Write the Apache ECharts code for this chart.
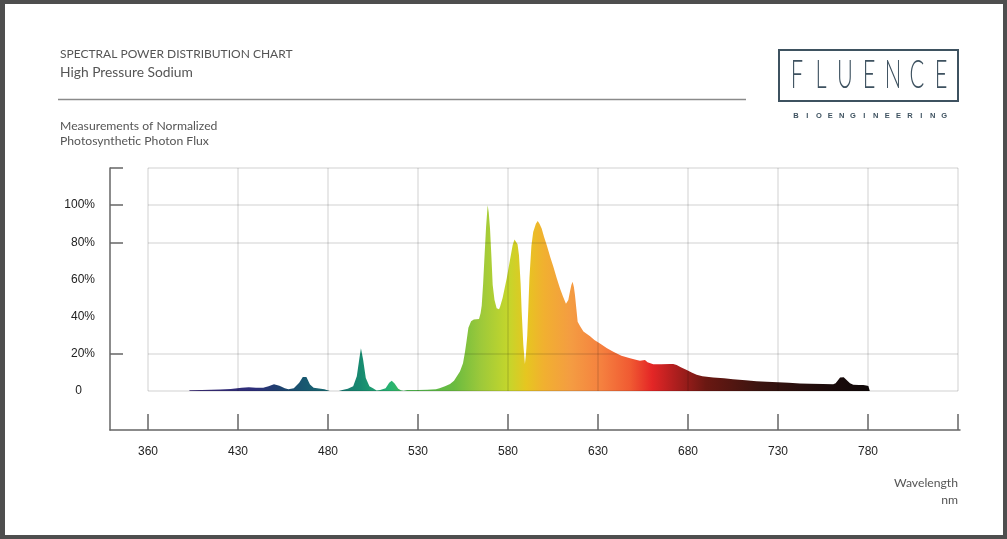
<!DOCTYPE html>
<html><head><meta charset="utf-8">
<script src="https://cdn.jsdelivr.net/npm/echarts@6/dist/echarts.min.js"></script>
<style>
html,body{margin:0;padding:0;background:#fff;}
#c{position:absolute;left:0;top:0;width:1007px;height:539px;background:#fff;}
#frame{position:absolute;left:0;top:0;width:1007px;height:539px;box-sizing:border-box;border-style:solid;border-color:#4e4e4e;border-width:4px 4px 4px 5px;pointer-events:none;}
</style></head>
<body><div id="c"></div><div id="frame"></div>
<script>
// ---- data ----
const wavelengths = [403,410,420,426,432,436,440,444,447,450,453,456,458,461,464,466,467,468,470,472,475,478,479,481,486,488,491,494,496,497.5,498.3,499.5,501,503,505,507,509,512,514,515.4,517,519,520.5,522,524,530,535,540,542,545,547.8,550,553.3,555,556.1,557,558,559.5,561,563.9,564.8,565.4,566.2,566.8,567.8,568.7,569.3,570,570.8,571.5,572.5,573.7,575,575.6,577,579.3,581,582.6,583.6,584.4,585.3,586.1,587,587.6,588.5,589.4,590,590.7,591.3,591.9,593,594,595.5,596.5,597.5,598.7,600,601.5,603.5,605.2,607,608.9,610.5,612.2,613.5,614.4,615.2,615.9,616.6,617.2,618,618.7,620,621.9,625.6,628,631.1,635,638.5,643,647.8,651,653.3,656.1,657.5,660.7,665,670,671.8,673.7,676,679.3,682,684.8,688,694,700,705,712,718,723.7,730,736,742.2,748,755,760.7,762,763,764.5,765.4,766.5,768.1,770,771.8,775,777.4,779,780.2,781];
const values = [0.4,0.5,0.8,1.1,1.8,2.0,1.8,1.8,2.6,3.6,2.8,1.5,1.0,1.5,4.5,7.5,8.2,7.5,3.5,1.8,1.4,1.0,0.3,0.0,0.0,0.5,1.2,2.5,8,18,23,17,7,2.5,1.5,0.3,0.5,1.5,4.5,5.5,4,1.2,0.4,0.2,0.6,0.6,0.7,1.0,1.5,2.5,3.8,5.5,10.5,15,21,27,34,37.5,38.5,38.7,42,46,58,69.5,88,100,96,87.6,72,57,49,44.5,44,45.3,50,60.7,70,78.5,81.5,82.5,79,73,58,42.6,25,14.5,20,30,45,60.7,78,85.6,90,91.5,90,87.5,83,78.5,72,66.8,61,55.2,51,47,49,53.4,57,58.8,56,51.6,44,37.3,35,32,29.5,27.5,25.6,23,21.1,19,17.6,16.8,16.3,16.7,15.5,14.4,14.4,14.5,14.5,14.0,12.8,11.3,10,8.8,8,7.3,6.8,6.3,5.8,5.3,5.0,4.7,4.4,4.1,3.9,3.7,3.6,4.2,5.4,7.2,8.0,7.4,5.9,4.2,3.3,3.2,3.2,3.0,2.7,2.5];

const xTickValues = [380,430,480,530,580,630,680,730,780,830];
const xTickLabels = ['360','430','480','530','580','630','680','730','780'];
const yLabelValues = [0,20,40,60,80,100];
const yTickValues = [20,80,100,120];
const gridValues = [0,20,80,100,120];

const specWl    = [403,440,452,467,480,498,515,525,550,565,580,590,600,615,632,648,660,672,690,720,760,781];
const specColor = ['#3c2b76','#2d2f7a','#1f3f6e','#185870','#1a6a72','#178a70','#28b472','#4eb850','#6abb40','#9dc93a','#c4d62c','#e6c620','#f1b030','#f49c42','#f5803f','#f05a32','#e42626','#b21f1f','#6a1812','#3a1410','#1a0b0b','#0f0808'];

const titleLines = ['SPECTRAL POWER DISTRIBUTION CHART','High Pressure Sodium'];
const subtitleLines = ['Measurements of Normalized','Photosynthetic Photon Flux'];
const axisNameLines = ['Wavelength','nm'];
const logoWord = 'FLUENCE';
const logoSub = 'BIOENGINEERING';

// ---- chart ----
const chart = echarts.init(document.getElementById('c'), null, {renderer:'canvas'});
const wMin = wavelengths[0], wMax = wavelengths[wavelengths.length-1];
const stops = specWl.map((w,i)=>({offset:(w-wMin)/(wMax-wMin), color:specColor[i]}));
const axisCol = '#666';
const labelFont = '"Liberation Sans", Arial, sans-serif';
const txtFont = 'Lato, "Open Sans", sans-serif';
const logoCol = '#3e5260';

function txt(t, x, y, size, align, col){
  return {type:'text', x:x, y:y, style:{text:t, fill:col||'#555', font:size+'px '+txtFont, textAlign:align, textVerticalAlign:'middle', align:align, verticalAlign:'middle'}};
}
const graphics = [];
graphics.push(txt(titleLines[0], 60, 54, 12, 'left'));
graphics.push(txt(titleLines[1], 60, 73, 13.8, 'left'));
graphics.push({type:'line', shape:{x1:58, y1:99.5, x2:746, y2:99.5}, style:{stroke:'#8a8a8a', lineWidth:1.5}});
graphics.push(txt(subtitleLines[0], 60, 126, 12.2, 'left'));
graphics.push(txt(subtitleLines[1], 60, 141, 12.2, 'left'));
graphics.push(txt(axisNameLines[0], 958, 483, 12.2, 'right'));
graphics.push(txt(axisNameLines[1], 958, 500, 12.2, 'right'));
// logo
graphics.push({type:'rect', shape:{x:779, y:50, width:179, height:51}, style:{fill:'none', stroke:logoCol, lineWidth:2}});
for (let i=0;i<logoWord.length;i++){
  graphics.push({type:'text', x:797+i*24, y:75, scaleX:0.56, style:{text:logoWord[i], fill:logoCol, font:'300 39px Lato, "DejaVu Sans", sans-serif', textAlign:'center', textVerticalAlign:'middle', align:'center', verticalAlign:'middle'}});
}
for (let i=0;i<logoSub.length;i++){
  graphics.push({type:'text', x:796+i*11.4, y:115.5, style:{text:logoSub[i], fill:logoCol, font:'bold 7.5px "Liberation Sans", sans-serif', textAlign:'center', textVerticalAlign:'middle', align:'center', verticalAlign:'middle'}});
}

const option = {
  animation:false,
  backgroundColor:'#fff',
  grid:[
    {left:110, right:47, top:168, bottom:109, outerBoundsMode:'none', containLabel:false},
    {left:148, right:49, top:168, bottom:148, outerBoundsMode:'none', containLabel:false}
  ],
  xAxis:[
    {type:'value', gridIndex:0, min:358.9, max:831.1, position:'bottom',
     axisLine:{show:true, onZero:false, lineStyle:{color:axisCol, width:1.5}},
     axisTick:{show:true, inside:true, length:16, customValues:xTickValues, lineStyle:{color:axisCol, width:1.5}},
     axisLabel:{show:true, customValues:xTickValues.slice(0, xTickLabels.length), formatter:(v)=>{const k=xTickValues.indexOf(v); return k>=0?xTickLabels[k]:'';}, margin:16, color:'#222', fontSize:12, fontFamily:labelFont},
     splitLine:{show:false}},
    {type:'value', gridIndex:1, min:380, max:830, interval:50, z:5,
     axisLine:{show:false}, axisTick:{show:false}, axisLabel:{show:false},
     splitLine:{show:true, lineStyle:{color:'rgba(0,0,0,0.12)', width:1.5}}}
  ],
  yAxis:[
    {type:'value', gridIndex:0, min:-21, max:120,
     axisLine:{show:true, onZero:false, lineStyle:{color:axisCol, width:1.5}},
     axisTick:{show:true, inside:true, length:13, customValues:yTickValues, lineStyle:{color:axisCol, width:1.5}},
     axisLabel:{show:true, customValues:yLabelValues, margin:15, color:'#222', fontSize:12, fontFamily:labelFont,
       formatter:(v)=> v===0 ? '{z|0}' : v+'%', rich:{z:{padding:[0,13,0,0], fontSize:12, fontFamily:labelFont, color:'#222'}}},
     splitLine:{show:false}},
    {type:'value', gridIndex:1, min:0, max:120, z:5,
     axisLine:{show:false}, axisTick:{show:false, customValues:gridValues}, axisLabel:{show:false},
     splitLine:{show:true, lineStyle:{color:'rgba(0,0,0,0.12)', width:1.5}}}
  ],
  series:[{
    type:'line', xAxisIndex:1, yAxisIndex:1, symbol:'none', smooth:false,
    data: wavelengths.map((w,i)=>[w, values[i]]),
    lineStyle:{width:0},
    areaStyle:{opacity:1, color:new echarts.graphic.LinearGradient(0,0,1,0,stops)},
    z:2
  }],
  graphic: graphics
};
chart.setOption(option);
</script>
</body></html>
